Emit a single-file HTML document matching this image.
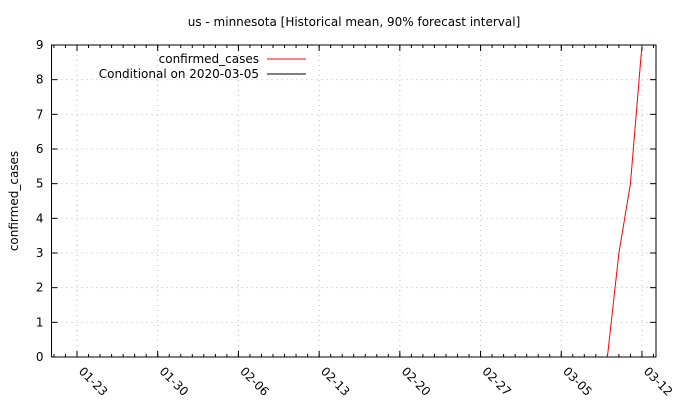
<!DOCTYPE html>
<html><head><meta charset="utf-8"><style>
body{margin:0;background:#fff;}
svg{display:block;font-family:"DejaVu Sans","Liberation Sans",sans-serif;}
</style></head><body>
<svg id="c" width="680" height="400" viewBox="0 0 680 400"></svg>
<script>
const tickLabels = ["01-23","01-30","02-06","02-13","02-20","02-27","03-05","03-12"];
const yTicks = [0,1,2,3,4,5,6,7,8,9];
const seriesDays = [46,47,48,49]; // days since 01-23
const seriesValues = [0,3,5,9];

const L=51.5,R=656,T=45,B=357;
const x0=77, perDay=11.53;
const xs=d=>x0+d*perDay;
const ys=v=>B-(v/9)*(B-T);
const svg=document.getElementById('c');
const NS='http://www.w3.org/2000/svg';
function mk(tag,attrs,parent){const e=document.createElementNS(NS,tag);for(const k in attrs)e.setAttribute(k,attrs[k]);(parent||svg).appendChild(e);return e;}

let t=mk('text',{x:354,y:26,'font-size':12,'text-anchor':'middle',fill:'#000'});
t.textContent='us - minnesota [Historical mean, 90% forecast interval]';



yTicks.forEach(v=>{
  const y=ys(v);
  if(v>0&&v<9){
    const g=mk('line',{x1:L,x2:R,y1:y,y2:y,stroke:'#bbb','stroke-dasharray':'1,4','stroke-width':1});
    
    
  }
  mk('line',{x1:L,x2:L+6,y1:y,y2:y,stroke:'#000'});
  mk('line',{x1:R,x2:R-6,y1:y,y2:y,stroke:'#000'});
  const lb=mk('text',{x:L-8,y:y+4,'font-size':12,'text-anchor':'end',fill:'#000'});
  lb.textContent=v;
  
  
});
for(let d=-2;d<=50;d++){
  const x=xs(d); if(x<L||x>R) continue;
  mk('line',{x1:x,x2:x,y1:B,y2:B-3,stroke:'#000'});
  mk('line',{x1:x,x2:x,y1:T,y2:T+3,stroke:'#000'});
}
tickLabels.forEach((s,i)=>{
  const x=xs(i*7);
  const g=mk('line',{x1:x,x2:x,y1:T,y2:B,stroke:'#bbb','stroke-dasharray':'1,4','stroke-width':1});
  
  
  mk('line',{x1:x,x2:x,y1:B,y2:B-6,stroke:'#000'});
  mk('line',{x1:x,x2:x,y1:T,y2:T+6,stroke:'#000'});
  const lb=mk('text',{x:x+1,y:B+15,'font-size':12,fill:'#000',transform:`rotate(45 ${x+1} ${B+15})`});
  lb.textContent=s;
  
  
});
const frame=mk('rect',{x:L,y:T,width:R-L,height:B-T,fill:'none',stroke:'#000','stroke-width':1});



const yt=mk('text',{x:18,y:201,'font-size':12,'text-anchor':'middle',fill:'#000',transform:'rotate(-90 18 201)'});
yt.textContent='confirmed_cases';



const defs=mk('defs',{});
const cp=mk('clipPath',{id:'clip'},defs);
mk('rect',{x:L,y:T,width:R-L,height:B-T},cp);
const pts=seriesDays.map((d,i)=>xs(d)+','+ys(seriesValues[i])).join(' ');
const line=mk('polyline',{points:pts,fill:'none',stroke:'#f00','stroke-width':1,'clip-path':'url(#clip)'});



const l1=mk('text',{x:259,y:63,'font-size':12,'text-anchor':'end',fill:'#000'});
l1.textContent='confirmed_cases';


mk('line',{x1:267,x2:306,y1:59,y2:59,stroke:'#f00'});
const l2=mk('text',{x:259,y:78,'font-size':12,'text-anchor':'end',fill:'#000'});
l2.textContent='Conditional on 2020-03-05';


mk('line',{x1:267,x2:306,y1:74,y2:74,stroke:'#000'});
</script>
</body></html>
